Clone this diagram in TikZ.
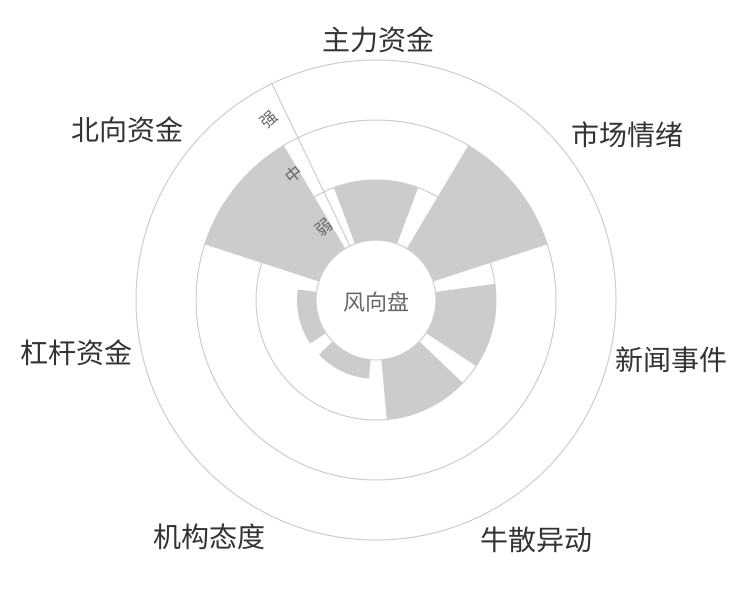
\documentclass[tikz,border=0pt]{standalone}
\usepackage{fontspec}
\setmainfont{Noto Sans CJK SC}
\usetikzlibrary{calc}
\definecolor{ringc}{HTML}{CCCCCC}
\definecolor{barc}{HTML}{CCCCCC}
\definecolor{labc}{HTML}{333333}
\definecolor{axlab}{HTML}{666666}
\begin{document}
\begin{tikzpicture}[x=1pt,y=1pt,
  ring/.style={draw=ringc,line width=1pt},
  barfill/.style={fill=barc},
  catlabel/.style={font=\fontsize{28}{30}\selectfont,text=labc,inner sep=0pt},
  radlabel/.style={font=\fontsize{16.5}{18}\selectfont,text=axlab,inner sep=0pt,rotate=40},
  centerlabel/.style={font=\fontsize{22}{24}\selectfont,text=axlab,inner sep=0pt}
]
\useasboundingbox (0,0) rectangle (750,-600);
\coordinate (c) at (376,-300);
% rings
\draw[ring] (c) circle[radius=60];
\draw[ring] (c) circle[radius=120];
\draw[ring] (c) circle[radius=180];
\draw[ring] (c) circle[radius=240];
% bars
\foreach \i/\r in {0/120,1/180,2/120,3/120,4/79,5/79,6/180}{
  \pgfmathsetmacro\aa{90-\i*360/7-20.571}
  \pgfmathsetmacro\ab{90-\i*360/7+20.571}
  \fill[barfill] ($(c)+(\aa:60)$) arc[start angle=\aa, end angle=\ab, radius=60]
     -- ($(c)+(\ab:\r)$) arc[start angle=\ab, end angle=\aa, radius=\r] -- cycle;
}
% radial axis
\coordinate (ax0) at ($(c)+(115.714:60)$);
\coordinate (ax1) at ($(c)+(115.714:240)$);
\draw[ring] (ax0) -- (ax1);
\node[radlabel] (ruo) at (323.5,-228) {弱};
\node[radlabel] (zhong) at (293.5,-174.5) {中};
\node[radlabel] (qiang) at (269,-120) {强};
% center
\node[centerlabel] (fxp) at (376,-302) {风向盘};
% category labels
\node[catlabel] (zl) at (378,-40) {主力资金};
\node[catlabel] (sc) at (627,-135) {市场情绪};
\node[catlabel] (xw) at (671.5,-360) {新闻事件};
\node[catlabel] (ns) at (536,-540) {牛散异动};
\node[catlabel] (jg) at (209,-537) {机构态度};
\node[catlabel] (gg) at (76,-353) {杠杆资金};
\node[catlabel] (bx) at (127,-130) {北向资金};
\end{tikzpicture}
\end{document}
